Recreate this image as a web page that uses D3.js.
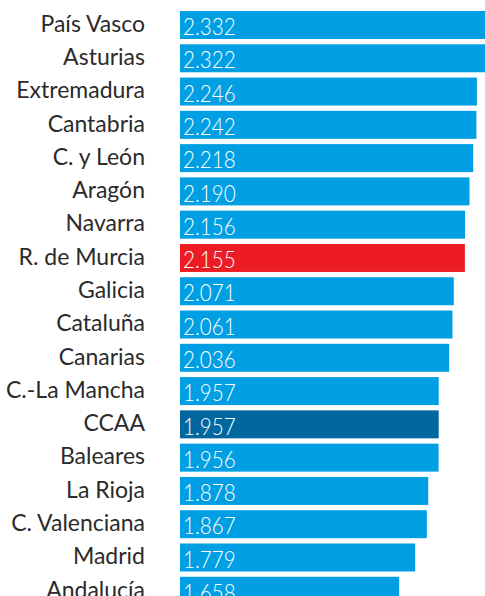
<!DOCTYPE html>
<html>
<head>
<meta charset="utf-8">
<script src="https://cdn.jsdelivr.net/npm/d3@7"></script>
<style>
html,body{margin:0;padding:0;background:#fff;overflow:hidden;}
svg{display:block;}
</style>
</head>
<body>
<div id="chart"></div>
<script>
const regions = ["País Vasco","Asturias","Extremadura","Cantabria","C. y León","Aragón","Navarra","R. de Murcia","Galicia","Cataluña","Canarias","C.-La Mancha","CCAA","Baleares","La Rioja","C. Valenciana","Madrid","Andalucía"];
const values = [2.332,2.322,2.246,2.242,2.218,2.190,2.156,2.155,2.071,2.061,2.036,1.957,1.957,1.956,1.878,1.867,1.779,1.658];
const valueLabels = ["2.332","2.322","2.246","2.242","2.218","2.190","2.156","2.155","2.071","2.061","2.036","1.957","1.957","1.956","1.878","1.867","1.779","1.658"];
const highlight = {"R. de Murcia":"#ed1c24","CCAA":"#00689f"};
const baseColor = "#009fe3";

const W = 485, H = 596;
const svg = d3.select("#chart").append("svg").attr("width", W).attr("height", H);

const x = d3.scaleLinear().domain([0, 2.5]).range([180, 180 + 2.5*132.2]);
const y = d3.scaleBand().domain(regions).range([11, 11 + 33*regions.length]).paddingInner(5/33).paddingOuter(0).align(0);

const data = regions.map((r,i)=>({r, v: values[i], lab: valueLabels[i]}));

svg.selectAll("rect.bar").data(data).join("rect")
  .attr("class","bar")
  .attr("x", x(0))
  .attr("y", d=>y(d.r))
  .attr("width", d=>x(d.v)-x(0))
  .attr("height", 28)
  .attr("fill", d=>highlight[d.r] || baseColor);

svg.selectAll("text.cat").data(data).join("text")
  .attr("class","cat")
  .attr("transform", d=>`translate(145,${y(d.r)+20.8})`)
  .attr("text-anchor","end")
  .attr("fill","#2b2b2b")
  .style("font-family","Lato, 'Open Sans', sans-serif")
  .style("font-size","23px")
  .text(d=>d.r);

svg.selectAll("text.val").data(data).join("text")
  .attr("class","val")
  .attr("transform", d=>`translate(${x(0)+3},${y(d.r)+24.2}) scale(0.86,1)`)
  .attr("fill","#fff")
  .style("font-family","Lato, 'Open Sans', sans-serif")
  .style("font-weight","300")
  .style("font-size","24px")
  .text(d=>d.lab);
</script>
</body>
</html>
